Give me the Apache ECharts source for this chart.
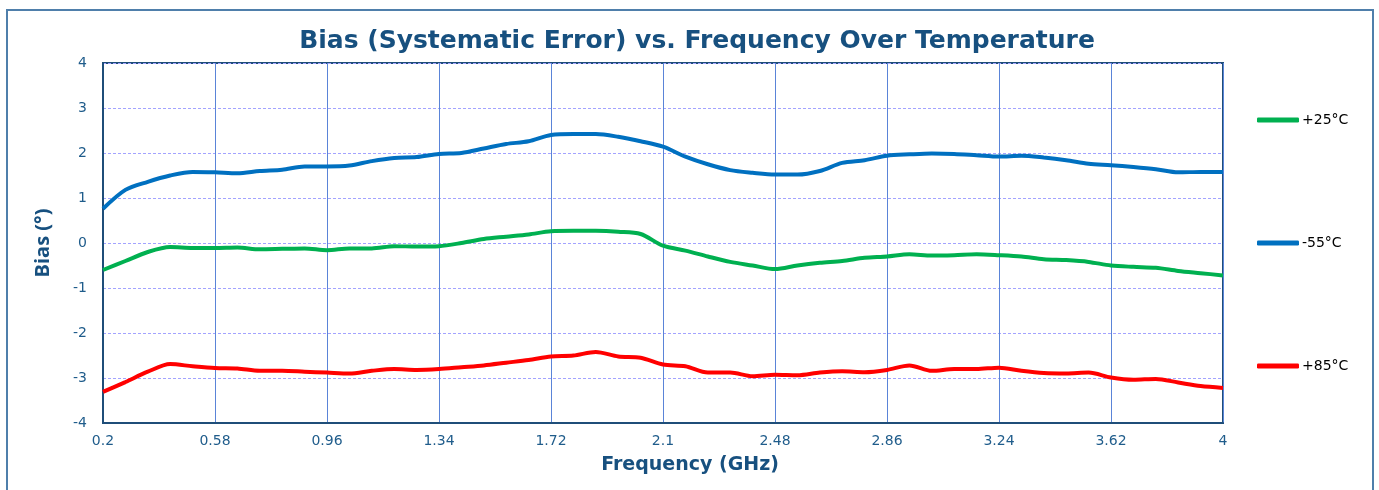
<html>
<head>
<meta charset="utf-8">
<script src="https://cdn.jsdelivr.net/npm/echarts@6/dist/echarts.min.js"></script>
<style>
  body { margin: 0; background: #fff; }
  #main { width: 1379px; height: 490px; }
</style>
</head>
<body>
<div id="main"></div>
<script type="text/javascript">
// frequency (GHz), one category every 0.076 GHz
var freqs = ['0.2','0.276','0.352','0.428','0.504','0.58','0.656','0.732','0.808','0.884',
             '0.96','1.036','1.112','1.188','1.264','1.34','1.416','1.492','1.568','1.644',
             '1.72','1.796','1.872','1.948','2.024','2.1','2.176','2.252','2.328','2.404',
             '2.48','2.556','2.632','2.708','2.784','2.86','2.936','3.012','3.088','3.164',
             '3.24','3.316','3.392','3.468','3.544','3.62','3.696','3.772','3.848','3.924','4'];

// bias (deg) at +25°C
var biasP25 = [-0.6,-0.4,-0.2,-0.09,-0.11,-0.11,-0.1,-0.14,-0.13,-0.12,
               -0.16,-0.12,-0.12,-0.07,-0.08,-0.07,0.0,0.09,0.14,0.19,
               0.26,0.27,0.27,0.25,0.2,-0.06,-0.17,-0.3,-0.42,-0.5,
               -0.58,-0.5,-0.44,-0.4,-0.33,-0.3,-0.25,-0.28,-0.27,-0.25,
               -0.27,-0.3,-0.36,-0.38,-0.42,-0.5,-0.53,-0.55,-0.62,-0.67,-0.72];

// bias (deg) at -55°C
var biasM55 = [0.76,1.18,1.36,1.5,1.58,1.57,1.55,1.6,1.63,1.7,
               1.7,1.72,1.82,1.89,1.91,1.98,2.0,2.1,2.2,2.26,
               2.4,2.42,2.42,2.36,2.26,2.14,1.92,1.75,1.62,1.56,
               1.52,1.52,1.6,1.78,1.84,1.94,1.97,1.99,1.98,1.95,
               1.92,1.94,1.9,1.84,1.76,1.73,1.69,1.64,1.57,1.58,1.58];

// bias (deg) at +85°C
var biasP85 = [-3.31,-3.09,-2.86,-2.69,-2.74,-2.78,-2.79,-2.84,-2.84,-2.86,
               -2.88,-2.9,-2.84,-2.8,-2.82,-2.8,-2.76,-2.72,-2.66,-2.6,
               -2.52,-2.5,-2.42,-2.52,-2.55,-2.7,-2.74,-2.88,-2.88,-2.96,
               -2.93,-2.94,-2.88,-2.85,-2.87,-2.82,-2.72,-2.84,-2.8,-2.8,
               -2.77,-2.84,-2.89,-2.9,-2.88,-2.99,-3.04,-3.02,-3.1,-3.18,-3.22];

var myChart = echarts.init(document.getElementById('main'));

var axisBlue = '#1f5c8b';
var legendText = { color: '#000', fontSize: 14, fontFamily: 'DejaVu Sans', padding: [0, 0, 0, -2] };

myChart.setOption({
    animation: false,
    backgroundColor: '#fff',
    title: {
        text: 'Bias (Systematic Error) vs. Frequency Over Temperature',
        left: 692, textAlign: 'center', top: 24,
        textStyle: { color: '#17507f', fontSize: 25, fontWeight: 'bold', fontFamily: 'DejaVu Sans' }
    },
    graphic: [{
        type: 'rect', silent: true,
        shape: { x: 7, y: 10, width: 1366, height: 500 },
        style: { fill: null, stroke: '#4f7fab', lineWidth: 2 }
    }],
    legend: [
        { data: ['+25°C'], orient: 'vertical', left: 1252, top: 108, icon: 'roundRect',
          itemWidth: 42, itemHeight: 5, itemGap: 0, textStyle: legendText },
        { data: ['-55°C'], orient: 'vertical', left: 1252, top: 231, icon: 'roundRect',
          itemWidth: 42, itemHeight: 5, itemGap: 0, textStyle: legendText },
        { data: ['+85°C'], orient: 'vertical', left: 1252, top: 354, icon: 'roundRect',
          itemWidth: 42, itemHeight: 5, itemGap: 0, textStyle: legendText }
    ],
    grid: {
        left: 103, top: 63, right: 156, bottom: 67,
        show: true, borderColor: '#1f4e79', borderWidth: 2, backgroundColor: 'transparent'
    },
    xAxis: {
        type: 'category',
        data: freqs,
        boundaryGap: false,
        name: 'Frequency (GHz)',
        nameLocation: 'middle',
        nameGap: 33,
        nameTextStyle: { color: '#17507f', fontSize: 19, fontWeight: 'bold', fontFamily: 'DejaVu Sans',
                         padding: [0, 0, 0, 54] },
        axisLine: { onZero: false, lineStyle: { color: '#1f4e79', width: 2 } },
        axisTick: { show: false },
        axisLabel: { interval: 4, color: axisBlue, fontSize: 14, fontFamily: 'DejaVu Sans', margin: 11 },
        splitLine: { show: true, interval: 4, lineStyle: { color: '#5a84d8', width: 1 } }
    },
    yAxis: {
        type: 'value',
        min: -4, max: 4, interval: 1,
        name: 'Bias (°)',
        nameLocation: 'middle',
        nameGap: 50,
        nameTextStyle: { color: '#17507f', fontSize: 20, fontWeight: 'bold', fontFamily: 'Open Sans' },
        axisLine: { show: true, lineStyle: { color: '#1f4e79', width: 2 } },
        axisTick: { show: false },
        axisLabel: { color: axisBlue, fontSize: 14, fontFamily: 'DejaVu Sans', margin: 16 },
        splitLine: { show: true, lineStyle: { color: '#a3a3ff', width: 1, type: [3, 2] } }
    },
    series: [
        { name: '+25°C', type: 'line', data: biasP25, showSymbol: false, symbol: 'none', smooth: 0.3,
          itemStyle: { color: '#00b050' }, lineStyle: { color: '#00b050', width: 4 } },
        { name: '-55°C', type: 'line', data: biasM55, showSymbol: false, symbol: 'none', smooth: 0.3,
          itemStyle: { color: '#0070c0' }, lineStyle: { color: '#0070c0', width: 4 } },
        { name: '+85°C', type: 'line', data: biasP85, showSymbol: false, symbol: 'none', smooth: 0.3,
          itemStyle: { color: '#ff0000' }, lineStyle: { color: '#ff0000', width: 4 } }
    ]
});
</script>
</body>
</html>
